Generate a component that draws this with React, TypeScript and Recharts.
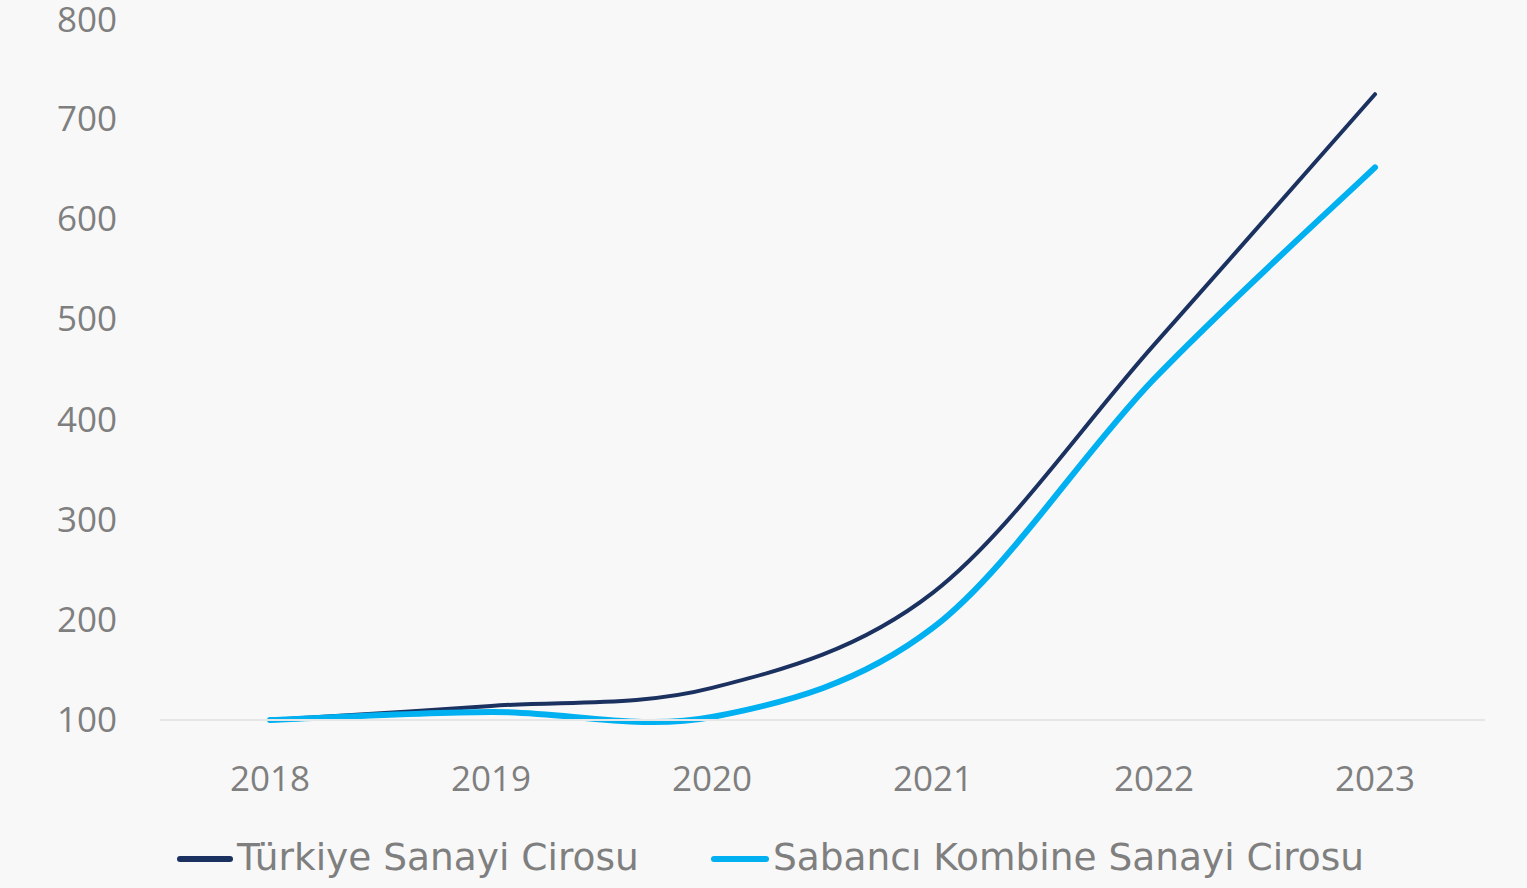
import React from "react";
import { LineChart, Line, XAxis, YAxis } from "recharts";

const years = ["2018", "2019", "2020", "2021", "2022", "2023"];
const turkiye = [100, 114, 132, 227, 474, 724];
const sabanci = [100, 108, 103, 192, 440, 651];
const yTicks = [100, 200, 300, 400, 500, 600, 700, 800];
const seriesNames = ["Türkiye Sanayi Cirosu", "Sabancı Kombine Sanayi Cirosu"];
const seriesColors = ["#1b3160", "#00b0f0"];

const data = years.map((y, i) => ({ year: y, turkiye: turkiye[i], sabanci: sabanci[i] }));

const FONT = "'Open Sans', sans-serif";
const LEGEND_FONT = "'DejaVu Sans', sans-serif";
const GREY = "#7f7f7f";

// Excel-like smoothing (uniform Catmull-Rom as cubic Bezier)
function smoothCurve(context: any) {
  let pts: number[][] = [];
  return {
    areaStart() {},
    areaEnd() {},
    lineStart() {
      pts = [];
    },
    point(x: number, y: number) {
      pts.push([+x, +y]);
    },
    lineEnd() {
      const n = pts.length;
      if (!n) return;
      context.moveTo(pts[0][0], pts[0][1]);
      for (let i = 0; i < n - 1; i++) {
        const p0 = pts[i - 1] || pts[i];
        const p1 = pts[i];
        const p2 = pts[i + 1];
        const p3 = pts[i + 2] || p2;
        context.bezierCurveTo(
          p1[0] + (p2[0] - p0[0]) / 6,
          p1[1] + (p2[1] - p0[1]) / 6,
          p2[0] - (p3[0] - p1[0]) / 6,
          p2[1] - (p3[1] - p1[1]) / 6,
          p2[0],
          p2[1]
        );
      }
    },
  };
}

const legendLeft = [177, 711];

const LegendBlock = () => (
  <>
    {seriesNames.map((name, i) => (
      <div
        key={name}
        style={{
          position: "absolute",
          left: legendLeft[i],
          top: 837,
          height: 40,
          display: "flex",
          alignItems: "center",
          fontFamily: LEGEND_FONT,
          fontSize: 37.5,
          color: GREY,
          whiteSpace: "nowrap",
        }}
      >
        <div style={{ width: i === 0 ? 56 : 58, height: 6, borderRadius: 3, background: seriesColors[i], marginRight: 4, marginTop: 4 }} />
        <span>{name}</span>
      </div>
    ))}
  </>
);

export default function App() {
  return (
    <div style={{ position: "absolute", left: 0, top: 0, width: 1527, height: 888, background: "#f8f8f8", overflow: "hidden" }}>
      <LineChart width={1527} height={888} data={data} margin={{ top: 18, right: 42, left: 0, bottom: 0 }}>
        <XAxis
          dataKey="year"
          padding={{ left: 110, right: 110 }}
          tickLine={false}
          tickSize={0}
          tickMargin={46}
          height={168}
          axisLine={{ stroke: "#e6e6e6", strokeWidth: 2 }}
          tick={{ fill: GREY, fontSize: 35, fontFamily: FONT }}
        />
        <YAxis
          domain={[100, 800]}
          ticks={yTicks}
          width={160}
          axisLine={false}
          tickLine={false}
          tickSize={0}
          tickMargin={43}
          tick={{ fill: GREY, fontSize: 35, fontFamily: FONT }}
        />
        <Line
          dataKey="turkiye"
          name={seriesNames[0]}
          type={smoothCurve as any}
          stroke={seriesColors[0]}
          strokeWidth={4}
          strokeLinecap="round"
          dot={false}
          activeDot={false}
          isAnimationActive={false}
        />
        <Line
          dataKey="sabanci"
          name={seriesNames[1]}
          type={smoothCurve as any}
          stroke={seriesColors[1]}
          strokeWidth={6}
          strokeLinecap="round"
          dot={false}
          activeDot={false}
          isAnimationActive={false}
        />
      </LineChart>
      <LegendBlock />
    </div>
  );
}
